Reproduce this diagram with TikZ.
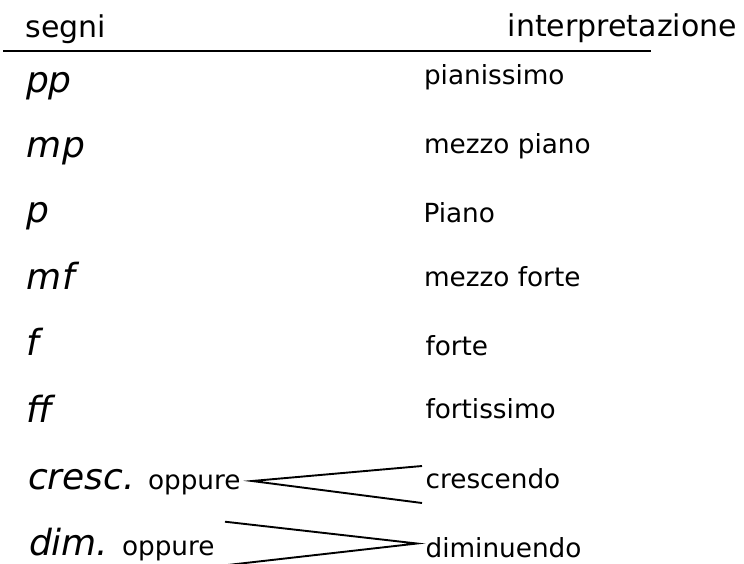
\documentclass[tikz,border=0pt]{standalone}
\usepackage{fontspec}
\setmainfont{DejaVu Sans}
\begin{document}
\begin{tikzpicture}[x=1pt,y=-1pt,
  txt/.style={inner sep=0pt,outer sep=0pt,anchor=base west},
  head/.style={txt,font=\fontsize{30}{31}\selectfont},
  sign/.style={txt,font=\fontsize{36}{38}\selectfont\itshape},
  lab/.style={txt,font=\fontsize{26.3}{28}\selectfont},
  rule/.style={line width=2pt},
  hair/.style={line width=1.9pt}]
\useasboundingbox (0,0) rectangle (744,563);
% header
\node[head] (segni) at (25.8,37.3) {segni};
\node[head,anchor=base east] (interp) at (737,36.5) {interpretazione};
\coordinate (rl) at (3,50.7);
\coordinate (rr) at (651,50.7);
\draw[rule] (rl) -- (rr);
% signs
\node[sign] (pp) at (26,92.5) {pp};
\node[sign] (mp) at (27,157) {mp};
\node[sign] (p) at (27,222) {p};
\node[sign] (mf) at (27,289) {mf};
\node[sign] (f) at (27,355) {f};
\node[sign] (ff) at (27,422) {ff};
\node[sign] (cresc) at (28,489) {cresc.};
\node[lab] (opp1) at (148,489) {oppure};
\node[sign] (dim) at (29,555) {dim.};
\node[lab] (opp2) at (122,555) {oppure};
% interpretations
\node[lab] (l1) at (424,84) {pianissimo};
\node[lab] (l2) at (424,153) {mezzo piano};
\node[lab] (l3) at (423.5,222) {Piano};
\node[lab] (l4) at (424,286) {mezzo forte};
\node[lab] (l5) at (425.5,355) {forte};
\node[lab] (l6) at (425.5,418) {fortissimo};
\node[lab] (l7) at (425.6,488) {crescendo};
\node[lab] (l8) at (425.6,557) {diminuendo};
% hairpins
\coordinate (ca) at (252,481);
\coordinate (ct) at (422,466);
\coordinate (cb) at (422,503);
\draw[hair] (ct) -- (ca) -- (cb);
\coordinate (da) at (417,543.5);
\coordinate (dt) at (225,521.7);
\coordinate (db) at (225,565.3);
\draw[hair] (dt) -- (da) -- (db);
\end{tikzpicture}
\end{document}
